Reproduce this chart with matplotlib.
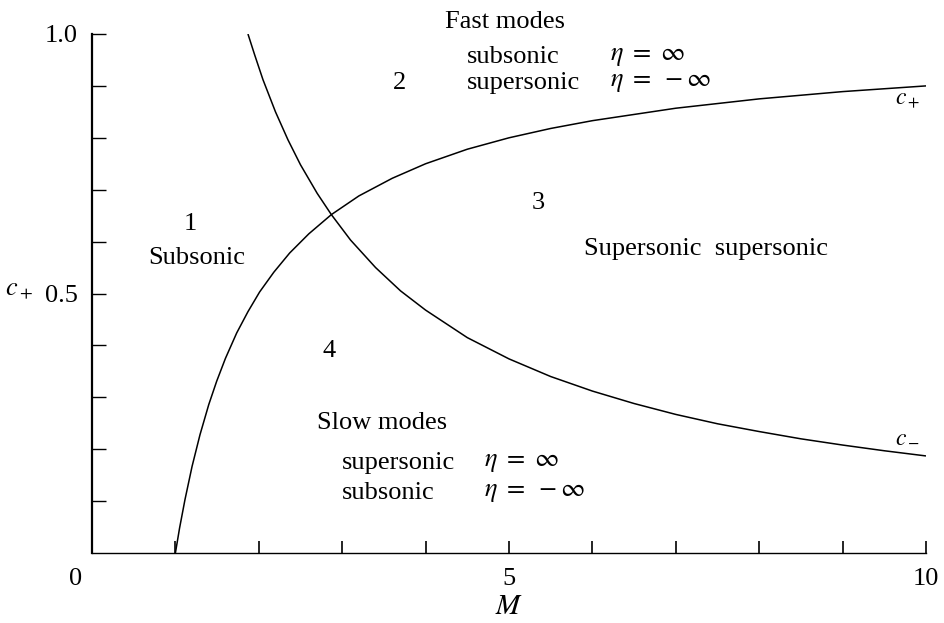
import matplotlib
matplotlib.use("Agg")
import matplotlib.pyplot as plt

plt.rcParams['font.family'] = ['Liberation Serif', 'DejaVu Serif']
plt.rcParams['mathtext.fontset'] = 'stix'

# c+ curve (rising)
m_plus = [1.0, 1.05, 1.115, 1.2, 1.295, 1.4, 1.495, 1.6, 1.735, 1.87, 2.01, 2.18,
          2.37, 2.6, 2.87, 3.2, 3.6, 4.0, 4.5, 5.0, 5.5, 6.0, 7.0, 8.0, 9.0, 10.0]
c_plus = [0.0, 0.048, 0.103, 0.167, 0.228, 0.286, 0.331, 0.375, 0.424, 0.465, 0.503,
          0.541, 0.578, 0.615, 0.652, 0.688, 0.722, 0.75, 0.778, 0.80, 0.818, 0.833,
          0.857, 0.875, 0.889, 0.90]

# c- curve (falling)
m_minus = [1.87, 1.95, 2.05, 2.2, 2.35, 2.5, 2.7, 2.87, 3.1, 3.4, 3.7, 4.0, 4.5,
           5.0, 5.5, 6.0, 6.5, 7.0, 7.5, 8.0, 8.5, 9.0, 9.5, 10.0]
c_minus = [1.0, 0.96, 0.912, 0.85, 0.796, 0.748, 0.693, 0.652, 0.603, 0.55, 0.505,
           0.468, 0.415, 0.374, 0.34, 0.312, 0.288, 0.267, 0.249, 0.234, 0.22, 0.208,
           0.197, 0.187]

x_ticks = [1, 2, 3, 4, 5, 6, 7, 8, 9, 10]
x_ticklabels = ["", "", "", "", "5", "", "", "", "", "10"]
y_ticks = [0.1, 0.2, 0.3, 0.4, 0.5, 0.6, 0.7, 0.8, 0.9, 1.0]
y_ticklabels = ["", "", "", "", "0.5", "", "", "", "", "1.0"]

FS = 19

fig = plt.figure(figsize=(9.44, 6.23), dpi=100)
ax = fig.add_axes([92/944, 1-553/623, (926-92)/944, (553-34)/623])
ax.set_xlim(0, 10)
ax.set_ylim(0, 1.0)

ax.plot(m_plus, c_plus, color='black', lw=1.1, solid_capstyle='butt')
ax.plot(m_minus, c_minus, color='black', lw=1.1, solid_capstyle='butt')

for s in ['top', 'right']:
    ax.spines[s].set_visible(False)
ax.spines['left'].set_linewidth(1.6)
ax.spines['bottom'].set_linewidth(1.0)

ax.set_xticks(x_ticks)
ax.set_xticklabels(x_ticklabels, fontsize=FS)
ax.set_yticks(y_ticks)
ax.set_yticklabels(y_ticklabels, fontsize=FS)
ax.tick_params(axis='x', direction='in', length=9, width=1.2, pad=11)
ax.tick_params(axis='y', direction='in', length=10, width=1.0, pad=10)

ax.text(-0.2, -0.028, "0", fontsize=FS, ha='center', va='top')
ax.set_xlabel("$M$", fontsize=FS + 2, labelpad=3)
ax.text(-0.88, 0.505, "$c_+$", fontsize=FS, ha='center', va='center')

# region labels
ax.text(4.95, 1.023, "Fast modes", fontsize=FS, ha='center', va='center')
ax.text(4.50, 0.956, "subsonic", fontsize=FS, ha='left', va='center')
ax.text(6.21, 0.956, r"$\eta\ =\ \infty$", fontsize=FS, ha='left', va='center')
ax.text(3.69, 0.906, "2", fontsize=FS, ha='center', va='center')
ax.text(4.50, 0.906, "supersonic", fontsize=FS, ha='left', va='center')
ax.text(6.21, 0.906, r"$\eta\ =\ -\infty$", fontsize=FS, ha='left', va='center')

ax.text(1.18, 0.634, "1", fontsize=FS, ha='center', va='center')
ax.text(1.26, 0.568, "Subsonic", fontsize=FS, ha='center', va='center')

ax.text(5.35, 0.674, "3", fontsize=FS, ha='center', va='center')
ax.text(7.36, 0.586, "Supersonic  supersonic", fontsize=FS, ha='center', va='center')

ax.text(2.84, 0.389, "4", fontsize=FS, ha='center', va='center')
ax.text(2.70, 0.250, "Slow modes", fontsize=FS, ha='left', va='center')
ax.text(3.00, 0.173, "supersonic", fontsize=FS, ha='left', va='center')
ax.text(4.70, 0.173, r"$\eta\ =\ \infty$", fontsize=FS, ha='left', va='center')
ax.text(3.00, 0.116, "subsonic", fontsize=FS, ha='left', va='center')
ax.text(4.70, 0.116, r"$\eta\ =\ -\infty$", fontsize=FS, ha='left', va='center')

ax.text(9.78, 0.873, "$c_+$", fontsize=FS - 2, ha='center', va='center')
ax.text(9.78, 0.224, "$c_-$", fontsize=FS - 2, ha='center', va='center')

fig.savefig("out.png", dpi=100)
